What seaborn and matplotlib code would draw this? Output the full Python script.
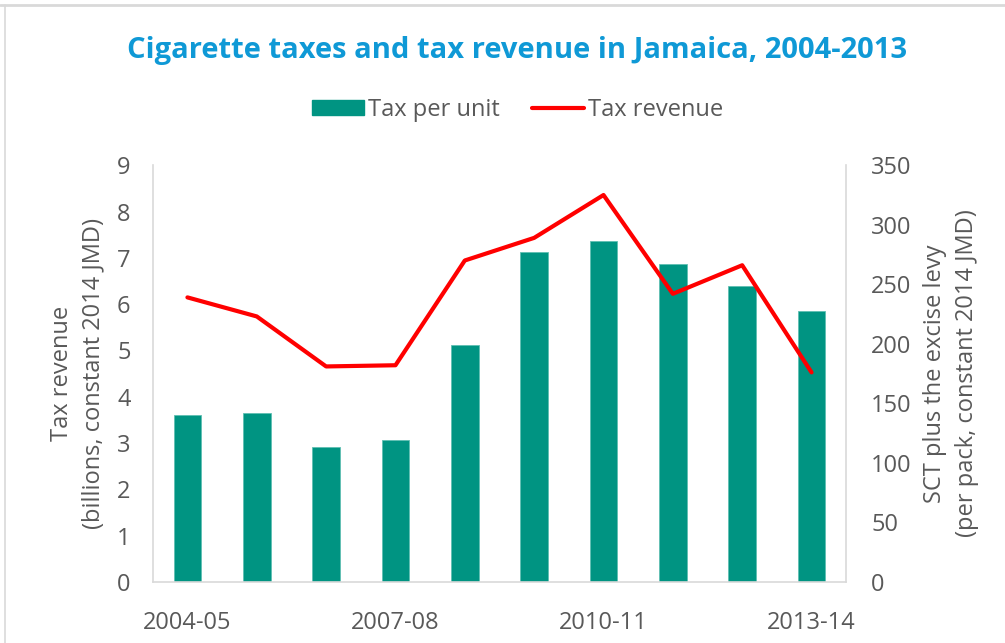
import matplotlib
matplotlib.use('Agg')
import matplotlib.pyplot as plt
import seaborn as sns
import pandas as pd
from matplotlib.lines import Line2D

years = ['2004-05', '2005-06', '2006-07', '2007-08', '2008-09',
         '2009-10', '2010-11', '2011-12', '2012-13', '2013-14']
tax_per_unit = [3.60, 3.64, 2.91, 3.06, 5.11, 7.12, 7.37, 6.86, 6.40, 5.85]
tax_revenue = [239, 223, 181, 182, 270, 289, 325, 242, 266, 176]
shown_labels = ['2004-05', '2007-08', '2010-11', '2013-14']

sns.set_theme(style='white')
plt.rcParams['font.family'] = ['Open Sans', 'DejaVu Sans']

grey = '#595959'
teal = '#009482'
fs = 17

df = pd.DataFrame({'year': years, 'unit': tax_per_unit, 'revenue': tax_revenue})

fig = plt.figure(figsize=(10.05, 6.43), dpi=100)
ax = fig.add_axes([0.152, 0.095, 0.690, 0.648])

sns.barplot(data=df, x='year', y='unit', color=teal, width=0.4,
            saturation=1, edgecolor='#5fbfb2', linewidth=0.6, ax=ax)
ax.set_ylim(0, 9)
ax.set_xlim(-0.5, len(years) - 0.5)
ax.set_yticks(range(0, 10))

ax2 = ax.twinx()
sns.lineplot(x=list(range(len(years))), y=df['revenue'], color='#ff0000',
             linewidth=3, ax=ax2, sort=False)
ax2.set_ylim(0, 350)
ax2.set_yticks(range(0, 351, 50))

ax.set_xticks([years.index(y) for y in shown_labels])
ax.set_xticklabels(shown_labels)

for a in (ax, ax2):
    for s in a.spines.values():
        s.set_visible(False)
    a.tick_params(length=0, labelsize=fs, colors=grey)
ax.spines['left'].set_visible(True)
ax.spines['bottom'].set_visible(True)
ax2.spines['right'].set_visible(True)
for s in ('left', 'bottom'):
    ax.spines[s].set_color('#d9d9d9')
    ax.spines[s].set_linewidth(1.2)
ax2.spines['right'].set_color('#d9d9d9')
ax2.spines['right'].set_linewidth(1.2)

ax.tick_params(axis='x', pad=21)
ax.tick_params(axis='y', pad=16)
ax2.tick_params(axis='y', pad=18)

ax.set_xlabel('')
ax.set_ylabel('Tax revenue\n(billions, constant 2014 JMD)', fontsize=fs,
              color=grey, labelpad=8, linespacing=1.45)
ax2.set_ylabel('SCT plus the excise levy\n(per pack, constant 2014 JMD)',
               fontsize=fs, color=grey, labelpad=8, linespacing=1.45)

fig.text(0.514, 0.922, 'Cigarette taxes and tax revenue in Jamaica, 2004-2013',
         ha='center', va='center', fontsize=21, fontweight='bold', color='#0f99d6')

handles = [plt.Rectangle((0, 0), 1, 1, color=teal),
           Line2D([0], [0], color='#ff0000', linewidth=3)]
fig.legend(handles, ['Tax per unit', 'Tax revenue'], loc='center',
           bbox_to_anchor=(0.515, 0.829), ncol=2, frameon=False,
           fontsize=fs, labelcolor=grey, handlelength=2.2, handleheight=0.64,
           handletextpad=0.15, columnspacing=1.4)

# screenshot frame lines
fig.add_artist(Line2D([0, 1], [0.992, 0.992], color='#d9d9d9', linewidth=2))
fig.add_artist(Line2D([0.005, 0.005], [0, 0.992], color='#d9d9d9', linewidth=1.2))

fig.savefig('out.png', dpi=100)
